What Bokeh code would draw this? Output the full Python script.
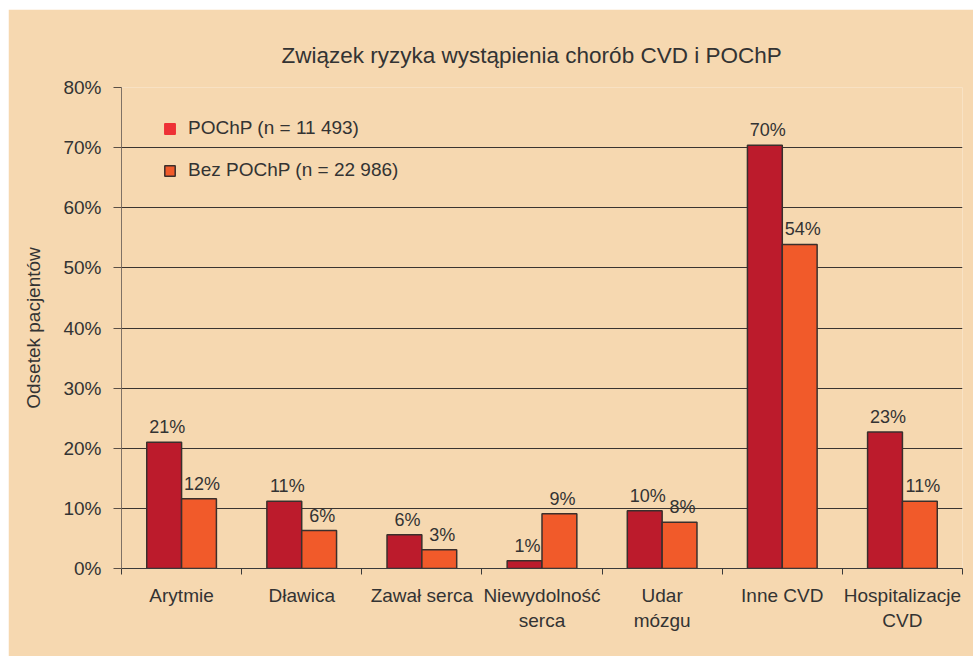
from bokeh.plotting import figure
from bokeh.models import (Range1d, FixedTicker, PrintfTickFormatter, Legend, LegendItem,
                          ColumnDataSource)
from bokeh.embed import file_html
from bokeh.resources import INLINE

# ---- data ----
categories = ["Arytmie", "Dławica", "Zawał serca", "Niewydolność\nserca",
              "Udar\nmózgu", "Inne CVD", "Hospitalizacje\nCVD"]
pochp = [21.0, 11.2, 5.6, 1.3, 9.6, 70.4, 22.7]
bez_pochp = [11.6, 6.3, 3.1, 9.1, 7.7, 53.9, 11.2]
series_names = ["POChP (n = 11 493)", "Bez POChP (n = 22 986)"]
y_ticks = [0, 10, 20, 30, 40, 50, 60, 70, 80]

BG = "#F6D8B0"
DARK = "#BC1B2C"
ORANGE = "#F15A2A"
LEG_RED = "#EE3136"
EDGE = "#3a2f2c"
TXT = "#333333"
FONT = "Liberation Sans"

n = len(categories)
centers = [i + 0.5 for i in range(n)]
bounds = list(range(n + 1))
bw = 0.29
x_dark = [c - bw / 2 for c in centers]
x_or = [c + bw / 2 for c in centers]

src_dark = ColumnDataSource(dict(x=x_dark, top=pochp,
                                 lab=[f"{round(v)}%" for v in pochp]))
src_or = ColumnDataSource(dict(x=x_or, top=bez_pochp,
                               lab=[f"{round(v)}%" for v in bez_pochp]))

p = figure(width=965, height=647, output_backend="svg", toolbar_location=None,
           x_range=Range1d(0, n), y_range=Range1d(0, 80),
           min_border_left=113, min_border_right=11, min_border_top=78,
           min_border_bottom=88, title="Związek ryzyka wystąpienia chorób CVD i POChP")
p.margin = (9, 0, 0, 8)

p.background_fill_color = BG
p.border_fill_color = BG
p.outline_line_color = None

p.title.text_font = FONT
p.title.text_font_size = "22.5px"
p.title.text_font_style = "normal"
p.title.text_color = TXT
p.title.align = "left"
p.title.standoff = 40
p.title.offset = 160

# bars
p.vbar(x="x", top="top", bottom=0, width=bw, source=src_dark,
       fill_color=DARK, line_color=EDGE, line_width=1.5)
p.vbar(x="x", top="top", bottom=0, width=bw, source=src_or,
       fill_color=ORANGE, line_color=EDGE, line_width=1.5)

# value labels
for s in (src_dark, src_or):
    p.text(x="x", y="top", text="lab", source=s, text_align="center",
           text_baseline="bottom", x_offset=3, y_offset=-5,
           text_font_size="18px", text_color=TXT, text_font={"value": FONT})

# axes
xa = p.xaxis[0]
xa.ticker = FixedTicker(ticks=centers, minor_ticks=bounds)
xa.major_label_overrides = {c: lab for c, lab in zip(centers, categories)}
xa.major_tick_line_color = None
xa.minor_tick_line_color = "#3a3a3a"
xa.minor_tick_out = 6
xa.minor_tick_in = 0
xa.axis_line_color = "#3a3a3a"
xa.major_label_text_font = FONT
xa.major_label_text_font_size = "19px"
xa.major_label_text_color = TXT
xa.major_label_standoff = 10

ya = p.yaxis[0]
ya.ticker = FixedTicker(ticks=y_ticks)
ya.formatter = PrintfTickFormatter(format="%d%%")
ya.minor_tick_line_color = None
ya.major_tick_out = 8
ya.major_tick_in = 0
ya.major_tick_line_color = "#5a4f46"
ya.axis_line_color = "#7f7266"
ya.major_label_text_font = FONT
ya.major_label_text_font_size = "19px"
ya.major_label_text_color = TXT
ya.major_label_standoff = 12
ya.axis_label = "Odsetek pacjentów"
ya.axis_label_text_font = FONT
ya.axis_label_text_font_size = "19px"
ya.axis_label_text_font_style = "normal"
ya.axis_label_text_color = TXT
ya.axis_label_standoff = 16

p.xgrid.grid_line_color = None
p.ygrid.ticker = FixedTicker(ticks=y_ticks)
p.ygrid.grid_line_color = "#3a3430"
p.ygrid.grid_line_width = 1.2

# legend proxies (hidden renderers, shown only as legend swatches)
r1 = p.vbar(x="x", top="top", bottom=0, width=bw, source=src_dark,
            fill_color=LEG_RED, line_color=LEG_RED, line_width=1.5, visible=False)
r2 = p.vbar(x="x", top="top", bottom=0, width=bw, source=src_or,
            fill_color=ORANGE, line_color=EDGE, line_width=1.5, visible=False)
legend = Legend(items=[LegendItem(label=series_names[0], renderers=[r1]),
                       LegendItem(label=series_names[1], renderers=[r2])],
                location=(42, 387), orientation="vertical",
                glyph_width=13, glyph_height=13, label_height=20, spacing=20,
                label_standoff=12, padding=0, margin=0,
                background_fill_alpha=0, border_line_color=None,
                inactive_fill_alpha=0,
                label_text_font=FONT, label_text_font_size="19px",
                label_text_color=TXT)
p.add_layout(legend, "center")

open("out.html", "w").write(file_html(p, INLINE))
